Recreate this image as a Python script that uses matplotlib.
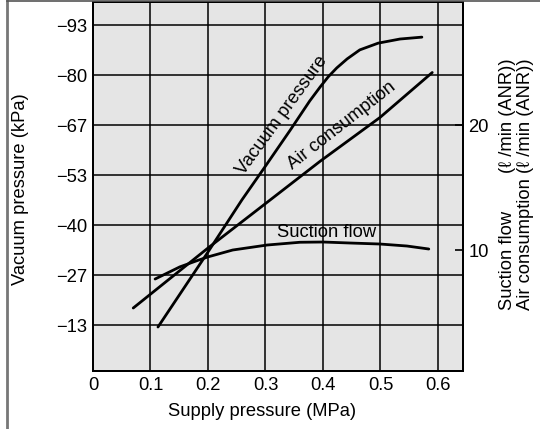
import matplotlib
matplotlib.use("Agg")
import matplotlib.pyplot as plt
from matplotlib.lines import Line2D

plt.rcParams['font.family'] = ['Liberation Sans', 'DejaVu Sans']

# ---- data ----
x_ticks = [0, 0.1, 0.2, 0.3, 0.4, 0.5, 0.6]
x_tick_labels = ["0", "0.1", "0.2", "0.3", "0.4", "0.5", "0.6"]
vac_ticks = [13.33, 26.67, 40.0, 53.33, 66.67, 80.0, 93.33]
vac_tick_labels = ["−13", "−27", "−40", "−53", "−67", "−80", "−93"]
flow_ticks = [10, 20]
flow_tick_labels = ["10", "20"]

# Vacuum pressure (kPa, magnitude)
vac_x = [0.113, 0.200, 0.259, 0.299, 0.343, 0.377, 0.395, 0.409, 0.424,
         0.442, 0.464, 0.496, 0.534, 0.572]
vac_y = [12.8, 32.8, 46.7, 55.5, 65.3, 73.1, 76.8, 79.5, 81.9,
         84.3, 86.7, 88.5, 89.6, 90.1]
# Air consumption (L/min ANR)
air_x = [0.070, 0.200, 0.308, 0.395, 0.499, 0.590]
air_y = [5.36, 10.16, 14.0, 17.1, 20.6, 24.2]
# Suction flow (L/min ANR)
suc_x = [0.108, 0.151, 0.181, 0.200, 0.243, 0.303, 0.360, 0.400, 0.447, 0.499, 0.546, 0.584]
suc_y = [7.68, 8.65, 9.15, 9.45, 10.0, 10.4, 10.62, 10.64, 10.56, 10.48, 10.32, 10.08]

W, H = 540, 429
fig = plt.figure(figsize=(W / 100, H / 100), dpi=100)
fig.patch.set_facecolor("white")

def fx(px):
    return px / W

def fy(py):
    return 1 - py / H

ax = fig.add_axes([fx(93), fy(371), fx(463) - fx(93), fy(2) - fy(371)])
ax.set_facecolor("#e5e5e5")
ax.set_xlim(0, 0.6435)
ax.set_ylim(1.07, 99.47)
ax2 = ax.twinx()
ax2.set_ylim(1.07 / 3.3333, 99.47 / 3.3333)

fs = 13.2
ax.set_xticks(x_ticks)
ax.set_xticklabels(x_tick_labels, fontsize=fs)
ax.set_yticks(vac_ticks)
ax.set_yticklabels(vac_tick_labels, fontsize=fs)
ax.tick_params(axis='both', length=0, pad=4)
ax2.set_yticks(flow_ticks)
ax2.set_yticklabels(flow_tick_labels, fontsize=fs)
ax2.tick_params(axis='y', direction='in', length=6, width=1.2, pad=4)

# grid
for xv in x_ticks[1:]:
    ax.axvline(xv, color='black', lw=1.1, zorder=1)
for yv in vac_ticks:
    ax.axhline(yv, color='black', lw=1.1, zorder=1)

for a in (ax, ax2):
    for s in a.spines.values():
        s.set_linewidth(1.4)
        s.set_color('black')

# curves
ax.plot(vac_x, vac_y, color='black', lw=2.0, solid_capstyle='round',
        solid_joinstyle='round', zorder=3)
ax2.plot(air_x, air_y, color='black', lw=2.0, solid_capstyle='round',
         solid_joinstyle='round', zorder=3)
ax2.plot(suc_x, suc_y, color='black', lw=2.0, solid_capstyle='round',
         solid_joinstyle='round', zorder=3)

# curve labels
ax.text(0.329, 69.3, "Vacuum pressure", rotation=54, fontsize=fs,
        ha='center', va='center', zorder=4)
ax.text(0.433, 66.4, "Air consumption", rotation=38, fontsize=fs,
        ha='center', va='center', zorder=4)
ax.text(0.407, 38.0, "Suction flow", fontsize=fs, ha='center', va='center', zorder=4)

# axis labels
fig.text(fx(21), fy(189), "Vacuum pressure (kPa)", rotation=90, fontsize=fs,
         ha='center', va='center')
fig.text(fx(262), fy(412), "Supply pressure (MPa)", fontsize=fs,
         ha='center', va='center')
unit = "(ℓ /min (ANR))"
fig.text(fx(508), fy(310), "Suction flow", rotation=90, fontsize=fs, ha='center', va='bottom')
fig.text(fx(508), fy(58), unit, rotation=90, fontsize=fs, ha='center', va='top')
fig.text(fx(525), fy(310), "Air consumption", rotation=90, fontsize=fs, ha='center', va='bottom')
fig.text(fx(525), fy(58), unit, rotation=90, fontsize=fs, ha='center', va='top')

# outer frame remnants (left and top border lines)
fig.add_artist(Line2D([fx(7), fx(7)], [0, fy(1)], color='#777777', lw=2, transform=fig.transFigure))
fig.add_artist(Line2D([fx(7), 1], [fy(1), fy(1)], color='#555555', lw=1.2, transform=fig.transFigure))

fig.savefig("out.png", dpi=100)
